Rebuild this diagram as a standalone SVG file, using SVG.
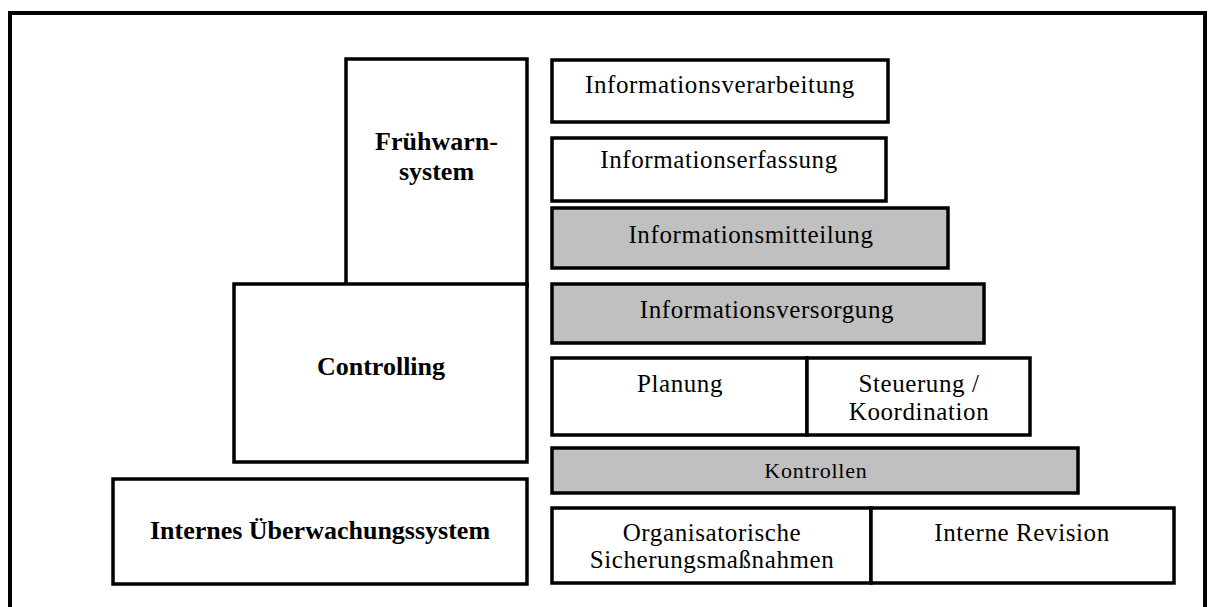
<svg xmlns="http://www.w3.org/2000/svg" width="1210" height="607" viewBox="0 0 1210 607">
  <style>
    .box { fill: #ffffff; stroke: #000000; stroke-width: 3.5; }
    .gray { fill: #c0c0c0; stroke: #000000; stroke-width: 3.5; }
    .frame { fill: none; stroke: #000000; stroke-width: 4; }
    .t { font-family: "Liberation Serif", "Times New Roman", serif; font-size: 25px; letter-spacing: 0.6px; fill: #000000; text-anchor: middle; }
    .ts { font-family: "Liberation Serif", "Times New Roman", serif; font-size: 22px; letter-spacing: 0.8px; fill: #000000; text-anchor: middle; }
    .b { font-family: "Liberation Serif", "Times New Roman", serif; font-size: 26px; font-weight: bold; fill: #000000; text-anchor: middle; }
  </style>
  <rect x="0" y="0" width="1210" height="607" fill="#ffffff"/>
  <path class="frame" d="M10,620 L10,13 L1205,13 L1205,620"/>

  <g id="fruehwarnsystem">
    <rect class="box" x="346" y="59" width="181" height="227"/>
    <text class="b" x="436.5" y="150">Frühwarn-</text>
    <text class="b" x="436.5" y="180">system</text>
  </g>
  <g id="controlling">
    <rect class="box" x="234" y="284" width="293" height="178"/>
    <text class="b" x="381" y="375">Controlling</text>
  </g>
  <g id="internes-ueberwachungssystem">
    <rect class="box" x="113" y="479" width="414" height="105"/>
    <text class="b" x="320" y="539">Internes Überwachungssystem</text>
  </g>

  <g id="informationsverarbeitung">
    <rect class="box" x="552" y="60" width="336" height="62"/>
    <text class="t" x="720" y="93">Informationsverarbeitung</text>
  </g>
  <g id="informationserfassung">
    <rect class="box" x="552" y="138" width="334" height="63"/>
    <text class="t" x="719" y="168">Informationserfassung</text>
  </g>
  <g id="informationsmitteilung">
    <rect class="gray" x="552" y="208" width="396" height="60"/>
    <text class="t" x="751" y="243">Informationsmitteilung</text>
  </g>
  <g id="informationsversorgung">
    <rect class="gray" x="552" y="284" width="432" height="59"/>
    <text class="t" x="767" y="318">Informationsversorgung</text>
  </g>
  <g id="planung">
    <rect class="box" x="552" y="358" width="255" height="77"/>
    <text class="t" x="680" y="392">Planung</text>
  </g>
  <g id="steuerung">
    <rect class="box" x="807" y="358" width="223" height="77"/>
    <text class="t" x="919" y="392">Steuerung /</text>
    <text class="t" x="919" y="420">Koordination</text>
  </g>
  <g id="kontrollen">
    <rect class="gray" x="552" y="448" width="526" height="45"/>
    <text class="ts" x="816" y="478">Kontrollen</text>
  </g>
  <g id="organisatorische">
    <rect class="box" x="552" y="508" width="319" height="75"/>
    <text class="t" x="712" y="541">Organisatorische</text>
    <text class="t" x="712" y="568">Sicherungsmaßnahmen</text>
  </g>
  <g id="interne-revision">
    <rect class="box" x="871" y="508" width="303" height="75"/>
    <text class="t" x="1022" y="541">Interne Revision</text>
  </g>
  <g id="connectors"></g>
</svg>
